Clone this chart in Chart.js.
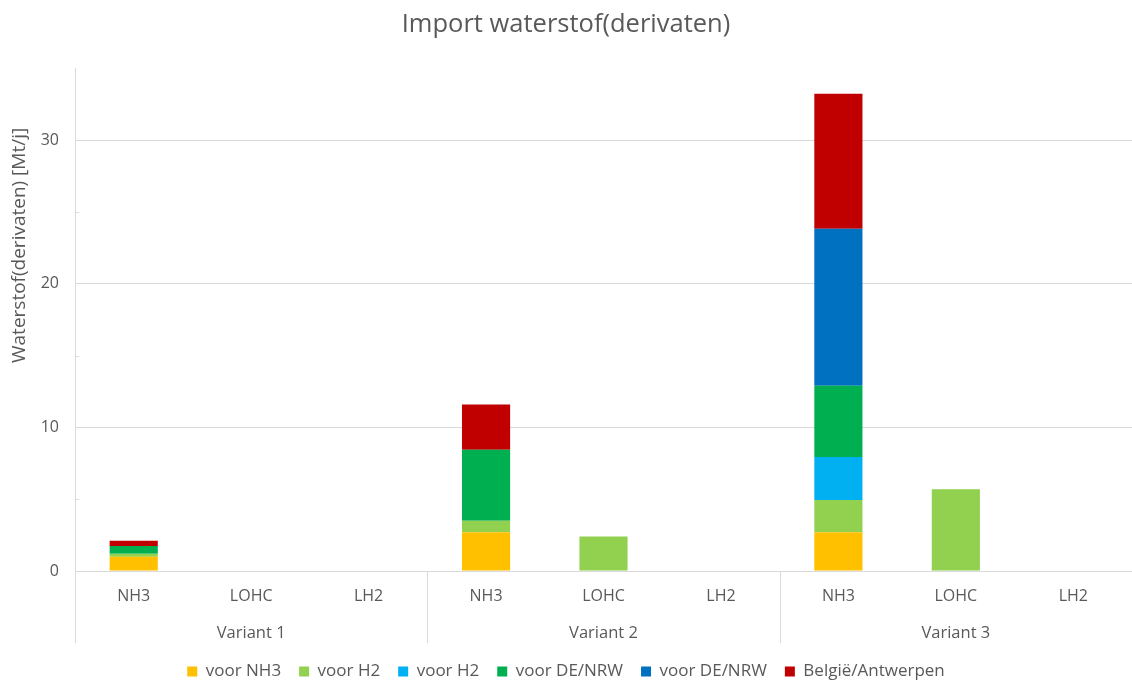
<!DOCTYPE html>
<html>
<head>
<meta charset="utf-8">
<script src="https://cdn.jsdelivr.net/npm/chart.js@4/dist/chart.umd.min.js"></script>
<style>
  body { margin: 0; background: #fff; }
  #wrap { width: 1132px; height: 682px; }
</style>
</head>
<body>
<div id="wrap"><canvas id="myChart"></canvas></div>
<script>
const categories = ["NH3", "LOHC", "LH2", "NH3", "LOHC", "LH2", "NH3", "LOHC", "LH2"];
const variants = ["Variant 1", "Variant 2", "Variant 3"];

const voorNH3 = [1.0, 0, 0, 2.7, 0, 0, 2.7, 0, 0];
const voorH2Green = [0.2, 0, 0, 0.8, 2.4, 0, 2.25, 5.7, 0];
const voorH2Blue = [0, 0, 0, 0, 0, 0, 3.0, 0, 0];
const voorDEGreen = [0.55, 0, 0, 4.95, 0, 0, 4.95, 0, 0];
const voorDEBlue = [0, 0, 0, 0, 0, 0, 10.95, 0, 0];
const belgie = [0.35, 0, 0, 3.15, 0, 0, 9.4, 0, 0];

const yMinorTicks = [5, 15, 25];

const fontFam = "'Open Sans', 'Noto Sans', sans-serif";
const textColor = "#595959";
const lineColor = "#d9d9d9";

// draws the second level of the x axis (variant names + separators) and minor ticks
const groupAxis = {
  id: "groupAxis",
  afterDraw(chart) {
    const ctx = chart.ctx;
    const x = chart.scales.x;
    const y = chart.scales.y;
    const bottom = chart.chartArea.bottom;
    const lineEnd = bottom + 72;
    ctx.save();
    ctx.strokeStyle = lineColor;
    ctx.lineWidth = 1;
    const edges = [x.left];
    for (let g = 1; g < variants.length; g++) {
      edges.push((x.getPixelForValue(g * 3 - 1) + x.getPixelForValue(g * 3)) / 2);
    }
    edges.forEach((px) => {
      ctx.beginPath();
      ctx.moveTo(Math.round(px) + 0.5, bottom);
      ctx.lineTo(Math.round(px) + 0.5, lineEnd);
      ctx.stroke();
    });
    yMinorTicks.forEach((v) => {
      const py = Math.round(y.getPixelForValue(v)) + 0.5;
      ctx.beginPath();
      ctx.moveTo(x.left, py);
      ctx.lineTo(x.left + 4, py);
      ctx.stroke();
    });
    ctx.fillStyle = textColor;
    ctx.font = "16.5px " + fontFam;
    ctx.textAlign = "center";
    ctx.textBaseline = "middle";
    variants.forEach((v, g) => {
      ctx.fillText(v, x.getPixelForValue(g * 3 + 1), bottom + 62);
    });
    ctx.restore();
  },
};

const ds = (label, data, color) => ({
  label: label,
  data: data,
  backgroundColor: color,
  borderWidth: 0,
  barPercentage: 0.41,
  categoryPercentage: 1.0,
});

const data = {
  labels: categories,
  datasets: [
    ds("voor NH3", voorNH3, "#FFC000"),
    ds("voor H2", voorH2Green, "#92D050"),
    ds("voor H2", voorH2Blue, "#00B0F0"),
    ds("voor DE/NRW", voorDEGreen, "#00B050"),
    ds("voor DE/NRW", voorDEBlue, "#0070C0"),
    ds("België/Antwerpen", belgie, "#C00000"),
  ],
};

const config = {
  type: "bar",
  data,
  plugins: [groupAxis],
  options: {
    responsive: false,
    animation: false,
    layout: { padding: { left: 0, right: 0, top: 0, bottom: -8 } },
    plugins: {
      title: {
        display: true,
        text: "Import waterstof(derivaten)",
        color: textColor,
        font: { family: fontFam, size: 25.5, weight: "normal" },
        padding: { top: 9, bottom: 29 },
      },
      legend: {
        position: "bottom",
        labels: {
          color: textColor,
          font: { family: fontFam, size: 17 },
          boxWidth: 10,
          boxHeight: 10,
          padding: 18,
        },
      },
      tooltip: { enabled: false },
    },
    scales: {
      x: {
        stacked: true,
        grid: { display: false },
        border: { display: false },
        ticks: { color: textColor, font: { family: fontFam, size: 16 }, padding: 8 },
        afterFit: (scale) => { scale.height = 74; },
      },
      y: {
        stacked: true,
        min: 0,
        max: 35,
        grid: { color: lineColor, drawTicks: false },
        border: { display: true, color: lineColor },
        ticks: {
          stepSize: 10,
          includeBounds: false,
          color: textColor,
          font: { family: fontFam, size: 16 },
          padding: 16,
        },
        title: {
          display: true,
          align: "end",
          // trailing spaces push the title down from the top, as in the original
          text: "Waterstof(derivaten) [Mt/j]            ",
          color: textColor,
          font: { family: fontFam, size: 19 },
          padding: { top: 8, bottom: 0 },
        },
        afterFit: (scale) => { scale.width = 75; },
      },
    },
  },
};

const canvas = document.querySelector("#myChart");
canvas.width = 1132;
canvas.height = 682;
let myChart = new Chart(canvas, config);
</script>
</body>
</html>
